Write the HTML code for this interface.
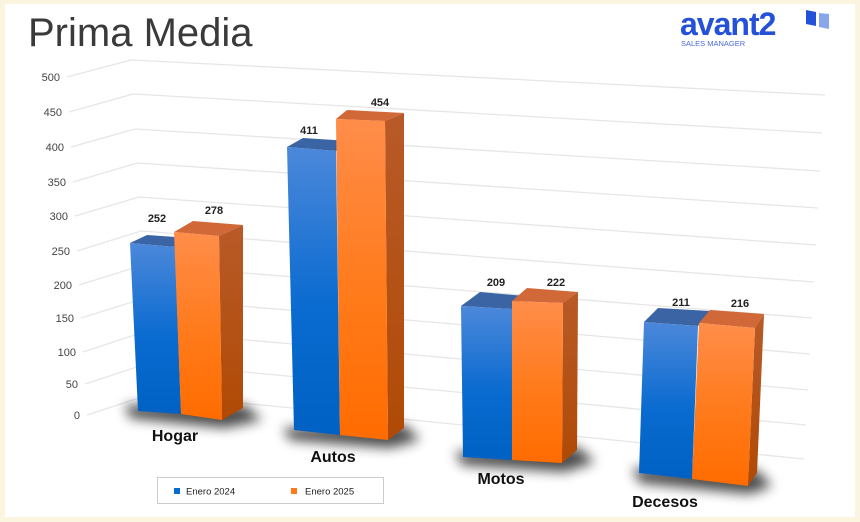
<!DOCTYPE html>
<html><head><meta charset="utf-8"><style>
html,body{margin:0;padding:0;}
body{width:860px;height:522px;overflow:hidden;background:#fbf4df;}
</style></head><body>
<svg width="860" height="522" xmlns="http://www.w3.org/2000/svg" style="display:block">
<defs>
<linearGradient id="bf" x1="0" y1="0" x2="0" y2="1"><stop offset="0" stop-color="#4c88da"/><stop offset="0.55" stop-color="#0a6bd0"/><stop offset="1" stop-color="#0061c4"/></linearGradient>
<linearGradient id="of" x1="0" y1="0" x2="0" y2="1"><stop offset="0" stop-color="#ff8d4a"/><stop offset="0.55" stop-color="#ff7a1a"/><stop offset="1" stop-color="#ff6c00"/></linearGradient>
<linearGradient id="os" x1="0" y1="0" x2="0" y2="1"><stop offset="0" stop-color="#b85a28"/><stop offset="1" stop-color="#b04a05"/></linearGradient>
<filter id="bl" x="-50%" y="-50%" width="200%" height="200%"><feGaussianBlur stdDeviation="6"/></filter>
</defs>
<rect x="5" y="4" width="850" height="513" fill="#ffffff"/>
<text x="28" y="46" font-family="Liberation Sans, sans-serif" font-size="40" fill="#3a3a3a">Prima Media</text>
<text x="680" y="35" font-family="Liberation Sans, sans-serif" font-size="32" font-weight="bold" fill="#2550d8" letter-spacing="-1">avant2</text>
<text x="681" y="46" font-family="Liberation Sans, sans-serif" font-size="7.5" fill="#4a6ad8">SALES MANAGER</text>
<polygon points="806,10 816,12 816,26 806,24" fill="#2550d8"/>
<polygon points="819,13 829,14 829,29 819,27" fill="#8aa6ea"/>
<g stroke="#e6e6e6" stroke-width="1.3" fill="none">
<polyline points="67,77 131,60 825,95"/>
<polyline points="69,112 133,94 822,133"/>
<polyline points="71,147 135,129 820,171"/>
<polyline points="73,182 137,163 818,208"/>
<polyline points="75,216 139,197 816,245"/>
<polyline points="77,251 141,231 814,282"/>
<polyline points="79,285 143,265 812,318"/>
<polyline points="81,318 145,298 810,354"/>
<polyline points="83,352 147,331 808,390"/>
<polyline points="85,384 149,363 806,425"/>
<polyline points="87,415 151,394 804,459"/>
</g>
<g font-family="Liberation Sans, sans-serif" font-size="11" fill="#444" text-anchor="end">
<text x="60" y="81">500</text><text x="62" y="116">450</text><text x="64" y="151">400</text><text x="66" y="186">350</text><text x="68" y="220">300</text><text x="70" y="255">250</text><text x="72" y="289">200</text><text x="74" y="322">150</text><text x="76" y="356">100</text><text x="78" y="388">50</text><text x="80" y="419">0</text>
</g>
<g fill="#000" opacity="0.7" filter="url(#bl)">
<polygon points="125,405 245,405 262,420 225,428 130,418"/>
<polygon points="283,428 405,425 420,440 390,448 290,440"/>
<polygon points="455,452 578,447 595,462 565,472 462,465"/>
<polygon points="632,468 757,470 772,486 750,494 640,483"/>
</g>
<!-- Hogar -->
<polygon points="130,243 147,235 190,238 175,247" fill="#3a64a4"/>
<polygon points="130,243 175,247 181,414 138,411" fill="url(#bf)"/>
<polygon points="174,232 193,221 243,225 219,236" fill="#d06838"/>
<polygon points="219,236 243,225 243,408 222,420" fill="url(#os)"/>
<polygon points="174,232 219,236 222,420 181,414" fill="url(#of)"/>
<!-- Autos -->
<polygon points="287,147 303,138 350,141 336,151" fill="#3a64a4"/>
<polygon points="287,147 336,151 340,435 294,430" fill="url(#bf)"/>
<polygon points="336,119 347,110 404,113 385,121" fill="#d06838"/>
<polygon points="385,121 404,113 404,428 388,440" fill="url(#os)"/>
<polygon points="336,119 385,121 388,440 340,435" fill="url(#of)"/>
<!-- Motos -->
<polygon points="461,306 480,292 525,296 512,309" fill="#3a64a4"/>
<polygon points="461,306 512,309 512,460 463,457" fill="url(#bf)"/>
<polygon points="512,301 527,288 578,292 563,303" fill="#d06838"/>
<polygon points="563,303 578,292 577,450 562,463" fill="url(#os)"/>
<polygon points="512,301 563,303 562,463 512,460" fill="url(#of)"/>
<!-- Decesos -->
<polygon points="644,322 658,308 710,311 698,326" fill="#3a64a4"/>
<polygon points="644,322 698,326 692,479 639,473" fill="url(#bf)"/>
<polygon points="699,323 710,310 764,314 755,328" fill="#d06838"/>
<polygon points="755,328 764,314 757,473 748,486" fill="url(#os)"/>
<polygon points="699,323 755,328 748,486 692,479" fill="url(#of)"/>
<g font-family="Liberation Sans, sans-serif" font-size="11" font-weight="bold" fill="#222" text-anchor="middle">
<text x="157" y="222">252</text><text x="214" y="214">278</text>
<text x="309" y="134">411</text><text x="380" y="106">454</text>
<text x="496" y="286">209</text><text x="556" y="286">222</text>
<text x="681" y="306">211</text><text x="740" y="307">216</text>
</g>
<g font-family="Liberation Sans, sans-serif" font-size="16" fill="#111" text-anchor="middle" font-weight="bold">
<text x="175" y="441">Hogar</text><text x="333" y="462">Autos</text><text x="501" y="484">Motos</text><text x="665" y="507">Decesos</text>
</g>
<rect x="157.5" y="477.5" width="226" height="26" fill="#fff" stroke="#ccc"/>
<rect x="174" y="488" width="6" height="6" fill="#0a6bd0"/>
<text x="186" y="494.5" font-family="Liberation Sans, sans-serif" font-size="9.5" fill="#222">Enero 2024</text>
<rect x="291" y="488" width="6" height="6" fill="#ff7a1a"/>
<text x="305" y="494.5" font-family="Liberation Sans, sans-serif" font-size="9.5" fill="#222">Enero 2025</text>
</svg>
</body></html>
